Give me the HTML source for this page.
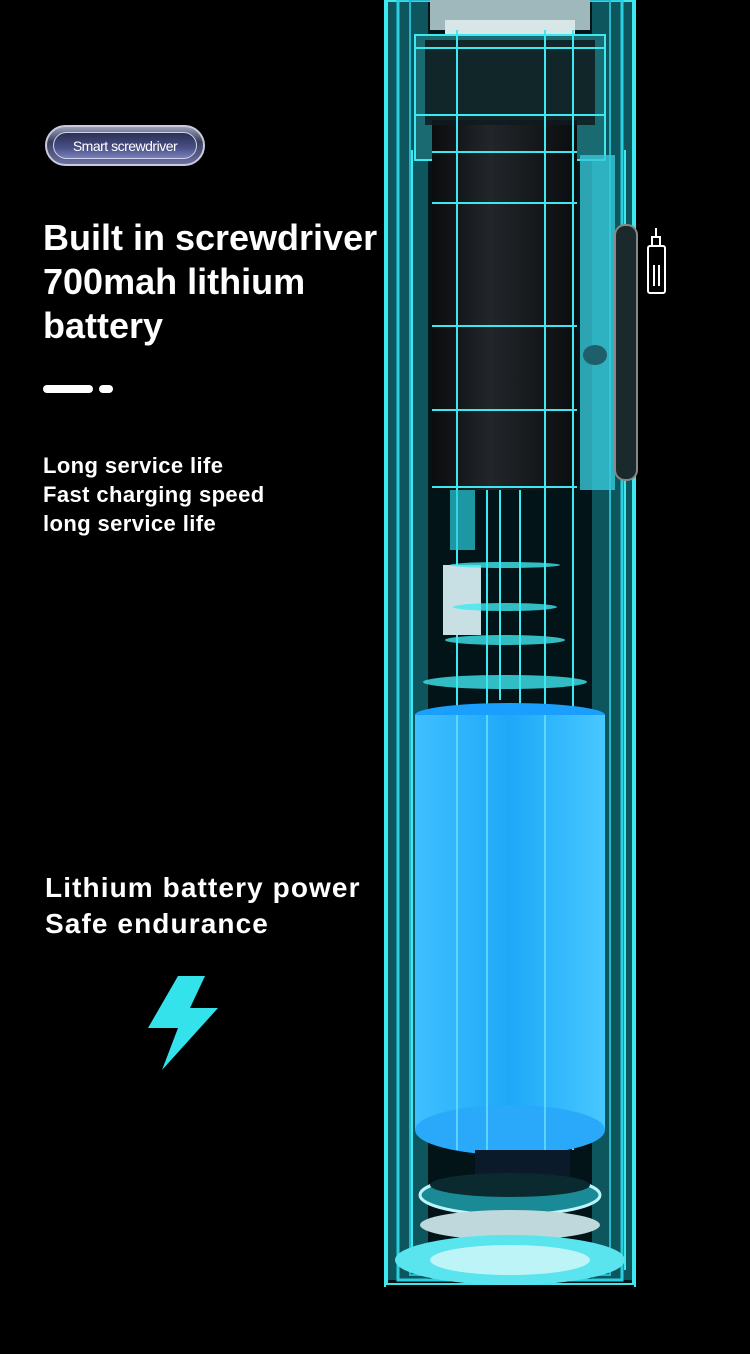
<!DOCTYPE html>
<html><head><meta charset="utf-8"><style>
html,body{margin:0;padding:0;background:#000;}
body{width:750px;height:1354px;position:relative;overflow:hidden;font-family:"Liberation Sans",sans-serif;color:#fff;}
.pill{position:absolute;left:45px;top:125px;width:160px;height:41px;border-radius:21px;background:linear-gradient(#9aa0b8,#3a3f5c 40%,#6c71a0);box-sizing:border-box;border:2px solid #c8cbe0;}
.pill span{position:absolute;left:6px;right:6px;top:5px;bottom:5px;border-radius:16px;background:linear-gradient(#2b3052,#4a5088 60%,#7a80b8);border:1px solid #d0d4f0;font-size:14px;line-height:27px;text-align:center;letter-spacing:-0.5px;}
.h{position:absolute;left:43px;top:216px;font-size:36px;line-height:44px;font-weight:bold;}
.d{position:absolute;top:385px;height:8px;border-radius:4px;background:#fff;}
.b{position:absolute;left:43px;top:451px;font-size:22px;line-height:29px;font-weight:bold;letter-spacing:0.4px;}
.c{position:absolute;left:45px;top:870px;font-size:28px;line-height:36px;font-weight:bold;letter-spacing:1.1px;}
svg{position:absolute;left:0;top:0;}
</style></head><body>
<svg width="750" height="1354" viewBox="0 0 750 1354">
<defs>
<linearGradient id="bat" x1="0" x2="1"><stop offset="0" stop-color="#3fc0ff"/><stop offset="0.5" stop-color="#1ea8f8"/><stop offset="1" stop-color="#48c8ff"/></linearGradient>
<linearGradient id="mot" x1="0" x2="1"><stop offset="0" stop-color="#0a0c0e"/><stop offset="0.4" stop-color="#22262a"/><stop offset="1" stop-color="#0a0c0e"/></linearGradient>
</defs>
<rect x="386" y="0" width="248" height="1285" fill="#021417"/>
<rect x="388" y="0" width="40" height="1280" fill="#1a8c98" opacity="0.55"/>
<rect x="592" y="0" width="40" height="1280" fill="#1a8c98" opacity="0.55"/>
<rect x="386" y="0" width="248" height="1285" fill="none" stroke="#3ee8f0" stroke-width="4"/>
<rect x="398" y="0" width="224" height="1280" fill="none" stroke="#2ad0e0" stroke-width="3"/>
<rect x="410" y="0" width="200" height="1275" fill="none" stroke="#1fb8cc" stroke-width="2"/>
<rect x="430" y="0" width="160" height="30" fill="#9fb8bc"/>
<rect x="445" y="20" width="130" height="14" fill="#d8e6e8"/>
<rect x="415" y="35" width="190" height="125" fill="#1a6a72" stroke="#3ee8f0" stroke-width="2"/>
<rect x="432" y="120" width="145" height="370" fill="url(#mot)"/>
<rect x="425" y="40" width="170" height="85" fill="#111a1c" opacity="0.85"/>
<g stroke="#3ee8f0" stroke-width="2" fill="none">
<line x1="415" y1="48" x2="605" y2="48"/><line x1="415" y1="115" x2="605" y2="115"/>
<line x1="432" y1="152" x2="577" y2="152"/><line x1="432" y1="203" x2="577" y2="203"/>
<line x1="432" y1="326" x2="577" y2="326"/><line x1="432" y1="410" x2="577" y2="410"/>
<line x1="432" y1="487" x2="577" y2="487"/>
<line x1="457" y1="30" x2="457" y2="1150"/><line x1="545" y1="30" x2="545" y2="1150"/>
<line x1="573" y1="30" x2="573" y2="1150"/><line x1="487" y1="490" x2="487" y2="1150"/>
<line x1="520" y1="490" x2="520" y2="1150"/><line x1="500" y1="490" x2="500" y2="700"/>
<line x1="412" y1="150" x2="412" y2="1270"/><line x1="625" y1="150" x2="625" y2="1270"/>
</g>
<rect x="580" y="155" width="35" height="335" fill="#37c8da" opacity="0.8"/>
<rect x="615" y="225" width="22" height="255" rx="10" fill="#1a2a2c" stroke="#888" stroke-width="2"/>
<ellipse cx="595" cy="355" rx="12" ry="10" fill="#1f5f6a"/>
<g stroke="#fff" stroke-width="2" fill="none"><rect x="648" y="246" width="17" height="47" rx="2"/><line x1="654" y1="265" x2="654" y2="286"/><line x1="659" y1="265" x2="659" y2="286"/><rect x="652" y="237" width="8" height="9"/><line x1="656" y1="228" x2="656" y2="237"/></g>
<rect x="450" y="490" width="25" height="60" fill="#2ad0e0" opacity="0.7"/>
<rect x="443" y="565" width="38" height="70" fill="#c8e0e4"/>
<g fill="#3ee8f0" opacity="0.8">
<ellipse cx="505" cy="565" rx="55" ry="3"/><ellipse cx="505" cy="607" rx="52" ry="4"/>
<ellipse cx="505" cy="640" rx="60" ry="5"/><ellipse cx="505" cy="682" rx="82" ry="7"/>
</g>
<ellipse cx="510" cy="715" rx="95" ry="12" fill="#1a9fff"/>
<rect x="415" y="715" width="190" height="415" fill="url(#bat)"/>
<ellipse cx="510" cy="1130" rx="95" ry="25" fill="#2aa8fa"/>
<g stroke="#6ee8ff" stroke-width="2" opacity="0.7"><line x1="457" y1="715" x2="457" y2="1150"/><line x1="545" y1="715" x2="545" y2="1150"/><line x1="487" y1="715" x2="487" y2="1150"/></g>
<rect x="475" y="1150" width="95" height="60" fill="#0a1a2a"/>
<ellipse cx="510" cy="1195" rx="90" ry="20" fill="#1a8a96" stroke="#bdf4f8" stroke-width="3"/>
<ellipse cx="510" cy="1185" rx="80" ry="12" fill="#0a2a30"/>
<ellipse cx="510" cy="1225" rx="90" ry="15" fill="#bfd8dc"/>
<ellipse cx="510" cy="1260" rx="115" ry="25" fill="#5ae4ee"/>
<ellipse cx="510" cy="1260" rx="80" ry="15" fill="#bdf4f8"/>
<rect x="386" y="1285" width="248" height="69" fill="#000"/>
<polygon points="178,976 205,976 190,1008 218,1008 162,1070 178,1028 148,1028" fill="#34e2ec"/>
</svg>
<div class="pill"><span>Smart screwdriver</span></div>
<div class="h">Built in screwdriver<br>700mah lithium<br>battery</div>
<div class="d" style="left:43px;width:50px"></div>
<div class="d" style="left:99px;width:14px"></div>
<div class="b">Long service life<br>Fast charging speed<br>long service life</div>
<div class="c">Lithium battery power<br>Safe endurance</div>
</body></html>
